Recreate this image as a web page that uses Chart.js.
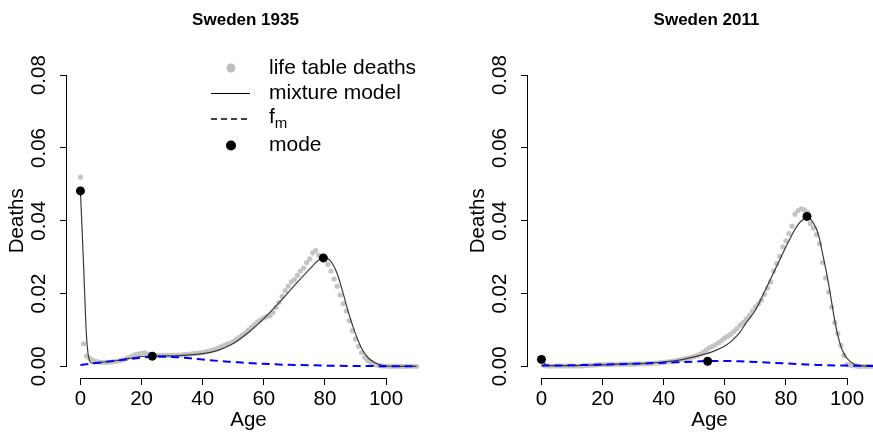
<!DOCTYPE html>
<html>
<head>
<meta charset="utf-8">
<script src="https://cdn.jsdelivr.net/npm/chart.js@4.4.1/dist/chart.umd.min.js"></script>
<style>
  html, body { margin: 0; padding: 0; background: #fff; overflow: hidden; }
  #wrap { position: relative; width: 873px; height: 433px; overflow: hidden; }
  #c1 { position: absolute; left: 0; top: 0; }
  #c2 { position: absolute; left: 436px; top: 0; }
</style>
</head>
<body>
<div id="wrap">
  <canvas id="c1" width="436" height="433"></canvas>
  <canvas id="c2" width="460" height="433"></canvas>
</div>
<script>
// ===== DATA =====
const ages = Array.from({ length: 111 }, (_, i) => i);
const xTicks = [0, 20, 40, 60, 80, 100];
const yTicks = [0, 0.02, 0.04, 0.06, 0.08];

// life table deaths, Sweden 1935 (ages 0..110)
const deaths1935 = [
  0.0520, 0.0062, 0.0028, 0.0022, 0.0017, 0.0014, 0.0012, 0.0011, 0.0011, 0.0011,
  0.0012, 0.0013, 0.0014, 0.0016, 0.0018, 0.0021, 0.0025, 0.0029, 0.0032, 0.0034,
  0.0036, 0.0037, 0.0034, 0.0032, 0.0031, 0.0030, 0.0030, 0.0030, 0.0030, 0.0030,
  0.0030, 0.0030, 0.0031, 0.0031, 0.0032, 0.0033, 0.0034, 0.0035, 0.0036, 0.0037,
  0.0038, 0.0040, 0.0042, 0.0044, 0.0047, 0.0050, 0.0054, 0.0057, 0.0061, 0.0064,
  0.0068, 0.0074, 0.0080, 0.0086, 0.0092, 0.0100, 0.0108, 0.0115, 0.0122, 0.0128,
  0.0133, 0.0137, 0.0140, 0.0148, 0.0162, 0.0176, 0.0192, 0.0208, 0.0220, 0.0232,
  0.0238, 0.0250, 0.0262, 0.0270, 0.0285, 0.0295, 0.0312, 0.0318, 0.0305, 0.0298,
  0.0292, 0.0280, 0.0262, 0.0240, 0.0220, 0.0196, 0.0172, 0.0152, 0.0125, 0.0098,
  0.0075, 0.0055, 0.0038, 0.0025, 0.0016, 0.0010, 0.0006, 0.0004, 0.0002, 0.0001,
  0.0001, 0, 0, 0, 0, 0, 0, 0, 0, 0, 0
];
// life table deaths, Sweden 2011 (ages 0..110)
const deaths2011 = [
  0.0022, 0.0002, 0.0001, 0.0001, 0.0001, 0.0001, 0.0001, 0.0001, 0.0001, 0.0001,
  0.0001, 0.0001, 0.0001, 0.0001, 0.0002, 0.0002, 0.0003, 0.0003, 0.0004, 0.0005,
  0.0005, 0.0005, 0.0005, 0.0005, 0.0005, 0.0005, 0.0006, 0.0006, 0.0006, 0.0006,
  0.0006, 0.0006, 0.0007, 0.0007, 0.0007, 0.0008, 0.0008, 0.0009, 0.0009, 0.0010,
  0.0011, 0.0012, 0.0013, 0.0014, 0.0016, 0.0017, 0.0019, 0.0021, 0.0023, 0.0025,
  0.0027, 0.0030, 0.0034, 0.0039, 0.0045, 0.0051, 0.0055, 0.0060, 0.0065, 0.0071,
  0.0078, 0.0083, 0.0089, 0.0096, 0.0104, 0.0113, 0.0120, 0.0130, 0.0140, 0.0152,
  0.0163, 0.0172, 0.0182, 0.0198, 0.0215, 0.0232, 0.0262, 0.0282, 0.0302, 0.0328,
  0.0345, 0.0365, 0.0385, 0.0418, 0.0428, 0.0433, 0.0430, 0.0424, 0.0392, 0.0380,
  0.0362, 0.0337, 0.0285, 0.0243, 0.0204, 0.0163, 0.0120, 0.0090, 0.0058, 0.0030,
  0.0005, 0.0003, 0.0002, 0.0001, 0, 0, 0, 0, 0, 0, 0
];

// mixture model fit
const model1935Age = [0, 1, 2, 3, 4, 5, 6, 8, 10, 12, 14, 16, 18, 20, 23, 26, 30, 35, 40, 45, 50, 55, 60, 65, 70, 75, 78, 80, 82, 84, 86, 88, 90, 92, 94, 96, 98, 100, 103, 110];
const model1935 = [0.0482, 0.0283, 0.0080, 0.0015, 0.0008, 0.0009, 0.0010, 0.0012, 0.0014, 0.0016, 0.0019, 0.0022, 0.0025, 0.0027, 0.0028, 0.0029, 0.0029, 0.0031, 0.0035, 0.0044, 0.0063, 0.0093, 0.0131, 0.0175, 0.0222, 0.0267, 0.0292, 0.0298, 0.0288, 0.0255, 0.0200, 0.0140, 0.0090, 0.0050, 0.0025, 0.0012, 0.0004, 0.0001, 0.00002, 0];
const model2011Age = [0, 1, 2, 3, 5, 10, 15, 20, 25, 30, 35, 40, 45, 50, 54, 57, 60, 62, 65, 67, 70, 73, 76, 78, 81, 84, 86, 87, 88, 90, 91, 92, 93, 94, 95, 96, 97, 98, 99, 100, 102, 104, 106, 110];
const model2011 = [0.0019, 0.0008, 0.0003, 0.0002, 0.0002, 0.0002, 0.0003, 0.0004, 0.0006, 0.0007, 0.0009, 0.0012, 0.0017, 0.0026, 0.0035, 0.0044, 0.0056, 0.0068, 0.0094, 0.0120, 0.0154, 0.0205, 0.0258, 0.0293, 0.0345, 0.0390, 0.0406, 0.0411, 0.0405, 0.0378, 0.0350, 0.0310, 0.0270, 0.0225, 0.0175, 0.0125, 0.0085, 0.0055, 0.0035, 0.0022, 0.0008, 0.0002, 0.00005, 0];

// f_m component
const fm1935Age = [0, 5, 10, 15, 20, 25, 30, 35, 40, 45, 50, 55, 60, 65, 70, 75, 80, 90, 100, 110];
const fm1935 = [0.0004, 0.0009, 0.0014, 0.0019, 0.0024, 0.0027, 0.0026, 0.0023, 0.0019, 0.0015, 0.0012, 0.0009, 0.0007, 0.0005, 0.0004, 0.0003, 0.0002, 0.0001, 0.00005, 0];
const fm2011Age = [0, 10, 20, 30, 40, 50, 55, 60, 65, 70, 75, 80, 85, 90, 100, 110];
const fm2011 = [0.0002, 0.0003, 0.0005, 0.0007, 0.0010, 0.0013, 0.0015, 0.0015, 0.0014, 0.0012, 0.0010, 0.0008, 0.0006, 0.0004, 0.0002, 0.0001];

// modes
const modes1935Age = [0, 23.5, 79.5];
const modes1935 = [0.0482, 0.0028, 0.0298];
const modes2011Age = [0, 54.4, 86.9];
const modes2011 = [0.0019, 0.0014, 0.0412];

// ===== HELPERS =====
const FONT = '"Liberation Sans", Arial, Helvetica, sans-serif';
Chart.defaults.font.family = FONT;
Chart.defaults.color = '#000';

const pts = (xs, ys) => xs.map((x, i) => ({ x: x, y: ys[i] }));

// R-style axis lines: only from first to last tick
const axisLines = {
  id: 'axisLines',
  afterDraw(chart) {
    const { ctx, chartArea, scales } = chart;
    ctx.save();
    ctx.strokeStyle = '#000';
    ctx.lineWidth = 1;
    ctx.beginPath();
    const yb = Math.round(chartArea.bottom) + 0.5;
    ctx.moveTo(scales.x.getPixelForValue(xTicks[0]), yb);
    ctx.lineTo(scales.x.getPixelForValue(xTicks[xTicks.length - 1]), yb);
    const xl = Math.round(chartArea.left) - 0.5;
    ctx.moveTo(xl, scales.y.getPixelForValue(yTicks[0]));
    ctx.lineTo(xl, scales.y.getPixelForValue(yTicks[yTicks.length - 1]));
    ctx.stroke();
    ctx.restore();
  }
};

// panel title centred over the plot region
const panelTitle = {
  id: 'panelTitle',
  afterDraw(chart, args, opts) {
    if (!opts.text) return;
    const { ctx, chartArea } = chart;
    ctx.save();
    ctx.font = 'bold 17px ' + FONT;
    ctx.fillStyle = '#000';
    ctx.textAlign = 'center';
    ctx.textBaseline = 'middle';
    ctx.fillText(opts.text, (chartArea.left + chartArea.right) / 2 - 3, 20);
    ctx.restore();
  }
};

// legend like R's legend() without frame
const mixLegend = {
  id: 'mixLegend',
  afterDraw(chart, args, opts) {
    if (!opts.show) return;
    const ctx = chart.ctx;
    const sx = 231, tx = 269;
    const rows = [68, 93, 119, 145.5];
    ctx.save();
    ctx.font = '21px ' + FONT;
    ctx.fillStyle = '#000';
    ctx.textBaseline = 'middle';
    ctx.textAlign = 'left';

    // life table deaths
    ctx.fillStyle = '#bebebe';
    ctx.beginPath(); ctx.arc(sx, rows[0], 4.5, 0, Math.PI * 2); ctx.fill();
    ctx.fillStyle = '#000';
    ctx.fillText('life table deaths', tx, rows[0]);

    // mixture model
    ctx.strokeStyle = '#000';
    ctx.lineWidth = 1;
    ctx.beginPath(); ctx.moveTo(211, rows[1] + 0.5); ctx.lineTo(250, rows[1] + 0.5); ctx.stroke();
    ctx.fillText('mixture model', tx, rows[1]);

    // f_m
    ctx.lineWidth = 1.5;
    ctx.setLineDash([6, 4]);
    ctx.beginPath(); ctx.moveTo(211, rows[2]); ctx.lineTo(250, rows[2]); ctx.stroke();
    ctx.setLineDash([]);
    ctx.fillText('f', tx, rows[2] - 2);
    const fw = ctx.measureText('f').width;
    ctx.font = '15px ' + FONT;
    ctx.fillText('m', tx + fw, rows[2] + 5);
    ctx.font = '21px ' + FONT;

    // mode
    ctx.beginPath(); ctx.arc(sx, rows[3], 5, 0, Math.PI * 2); ctx.fill();
    ctx.fillText('mode', tx, rows[3]);
    ctx.restore();
  }
};

function makeScales() {
  return {
    x: {
      type: 'linear', min: -4.4, max: 114.4,
      afterBuildTicks: s => { s.ticks = xTicks.map(v => ({ value: v })); },
      afterFit: s => { s.height = 55; },
      ticks: { color: '#000', font: { size: 20.5 }, padding: 2, maxRotation: 0, autoSkip: false,
               callback: v => String(v) },
      grid: { drawOnChartArea: false, drawTicks: true, tickLength: 7, color: '#000' },
      border: { display: false },
      title: { display: true, text: 'Age', color: '#000', font: { size: 20.5 }, padding: { top: 0, bottom: 0 } }
    },
    y: {
      type: 'linear', min: -0.0032, max: 0.0832,
      afterBuildTicks: s => { s.ticks = yTicks.map(v => ({ value: v })); },
      afterFit: s => { s.width = 67; },
      ticks: { color: '#000', font: { size: 20.5 }, padding: 1, minRotation: 90, maxRotation: 90,
               crossAlign: 'center', autoSkip: false, callback: v => v.toFixed(2) },
      grid: { drawOnChartArea: false, drawTicks: true, tickLength: 7, color: '#000' },
      border: { display: false },
      title: { display: true, text: 'Deaths', color: '#000', font: { size: 20.5 }, padding: { top: 5, bottom: 0 } }
    }
  };
}

function makeDatasets(deaths, mAge, mVal, fAge, fVal, oAge, oVal) {
  return [
    { label: 'mode', data: pts(oAge, oVal), showLine: false, order: 0,
      pointRadius: 4.5, pointBackgroundColor: '#000', pointBorderWidth: 0 },
    { label: 'f_m', data: pts(fAge, fVal), order: 1, borderColor: '#0000ff', borderWidth: 2,
      borderDash: [8, 5], pointRadius: 0, cubicInterpolationMode: 'monotone', fill: false },
    { label: 'mixture model', data: pts(mAge, mVal), order: 2, borderColor: '#3a3a3a', borderWidth: 1.2,
      pointRadius: 0, cubicInterpolationMode: 'monotone', fill: false },
    { label: 'life table deaths', data: pts(ages, deaths), showLine: false, order: 3,
      pointRadius: 2.6, pointBackgroundColor: '#c4c4c4', pointBorderWidth: 0 }
  ];
}

function makeChart(id, title, padLeft, padRight, datasets, legend) {
  return new Chart(document.getElementById(id), {
    type: 'line',
    data: { datasets: datasets },
    options: {
      responsive: false,
      animation: false,
      events: [],
      layout: { padding: { top: 63.5, left: padLeft, right: padRight, bottom: 0 } },
      scales: makeScales(),
      plugins: {
        legend: { display: false },
        tooltip: { enabled: false },
        panelTitle: { text: title },
        mixLegend: { show: legend }
      }
    },
    plugins: [axisLines, panelTitle, mixLegend]
  });
}

makeChart('c1', 'Sweden 1935', 0, 6,
  makeDatasets(deaths1935, model1935Age, model1935, fm1935Age, fm1935, modes1935Age, modes1935), true);
makeChart('c2', 'Sweden 2011', 25, 5,
  makeDatasets(deaths2011, model2011Age, model2011, fm2011Age, fm2011, modes2011Age, modes2011), false);
</script>
</body>
</html>
